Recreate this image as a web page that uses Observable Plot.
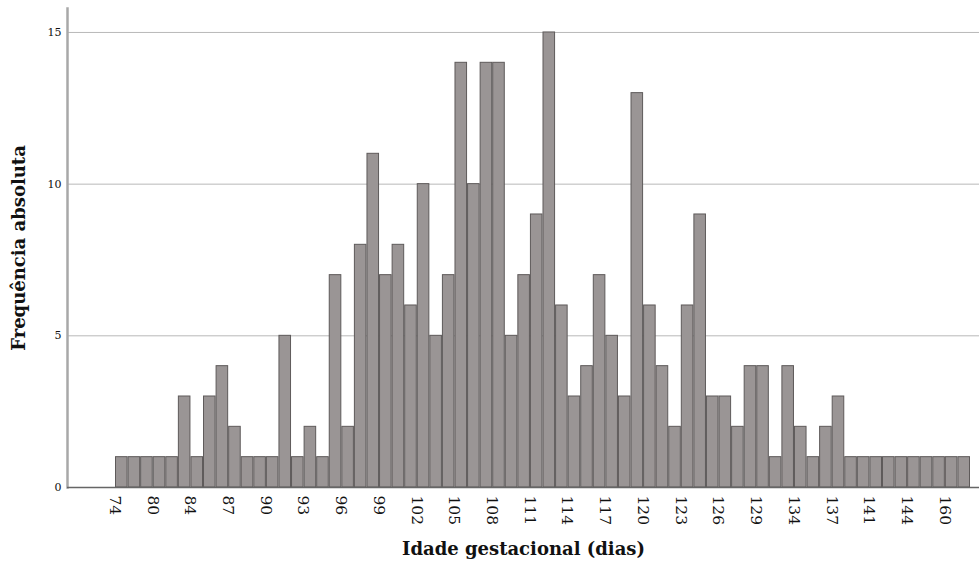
<!DOCTYPE html>
<html>
<head>
<meta charset="utf-8">
<script src="https://cdn.jsdelivr.net/npm/d3@7"></script>
<script src="https://cdn.jsdelivr.net/npm/@observablehq/plot@0.6"></script>
<style>
  html, body { margin: 0; padding: 0; background: #fff; }
</style>
</head>
<body>
<div id="chart"></div>
<script>
// Gestational age categories (days), in display order
const categories = [74, 76, 78, 80, 82, 83,
  84, 85, 86, 87, 88, 89, 90, 91, 92, 93, 94, 95, 96, 97, 98, 99, 100, 101, 102, 103, 104,
  105, 106, 107, 108, 109, 110, 111, 112, 113, 114, 115, 116, 117, 118, 119, 120, 121, 122,
  123, 124, 125, 126, 127, 128, 129, 130, 132, 134, 135, 136, 137, 138, 139, 141, 142, 143,
  144, 145, 150, 160, 162];

// Absolute frequency per category
const counts = [1, 1, 1, 1, 1, 3,
  1, 3, 4, 2, 1, 1, 1, 5, 1, 2, 1, 7, 2, 8, 11, 7, 8, 6, 10, 5, 7,
  14, 10, 14, 14, 5, 7, 9, 15, 6, 3, 4, 7, 5, 3, 13, 6, 4, 2,
  6, 9, 3, 3, 2, 4, 4, 1, 4, 2, 1, 2, 3, 1, 1, 1, 1, 1,
  1, 1, 1, 1, 1];

// Labelled ticks on the x axis
const tickLabels = [74, 80, 84, 87, 90, 93, 96, 99, 102, 105, 108, 111, 114, 117, 120, 123, 126, 129, 134, 137, 141, 144, 160];
const yTicks = [0, 5, 10, 15];

const xTitle = "Idade gestacional (dias)";
const yTitle = "Frequência absoluta";

const data = categories.map((c, i) => ({age: c, n: counts[i]}));

const chart = Plot.plot({
  width: 979,
  height: 564,
  marginLeft: 67,
  marginRight: 0,
  marginTop: 8,
  marginBottom: 77,
  style: {fontFamily: "'DejaVu Serif', Georgia, serif", background: "#fff", color: "#111"},
  x: {type: "band", domain: categories, padding: 0, range: [115, 970]},
  y: {domain: [0, 15.79]},
  marks: [
    Plot.gridY(yTicks.filter(d => d > 0), {stroke: "#b8b8b8", strokeOpacity: 1, strokeWidth: 1}),
    Plot.frame({anchor: "left", stroke: "#a8a8a8", strokeWidth: 2.5}),
    Plot.barY(data, {x: "age", y: "n", fill: "#9a9595", stroke: "#5e5a5a", strokeWidth: 1, insetLeft: 0.5, insetRight: 0.5}),
    Plot.ruleY([0], {stroke: "#666", strokeWidth: 1.5}),
    Plot.axisY({ticks: yTicks, tickSize: 0, tickPadding: 6, fontSize: 11, label: null}),
    Plot.axisX({ticks: tickLabels, tickRotate: 90, tickSize: 0, tickPadding: 8, dx: -7, fontSize: 15.5, label: null}),
    Plot.text([xTitle], {frameAnchor: "bottom", dy: 67, fontWeight: "bold", fontSize: 18}),
    Plot.text([yTitle], {frameAnchor: "left", textAnchor: "middle", dx: -48, rotate: -90, fontWeight: "bold", fontSize: 18})
  ]
});

document.getElementById("chart").appendChild(chart);
</script>
</body>
</html>
